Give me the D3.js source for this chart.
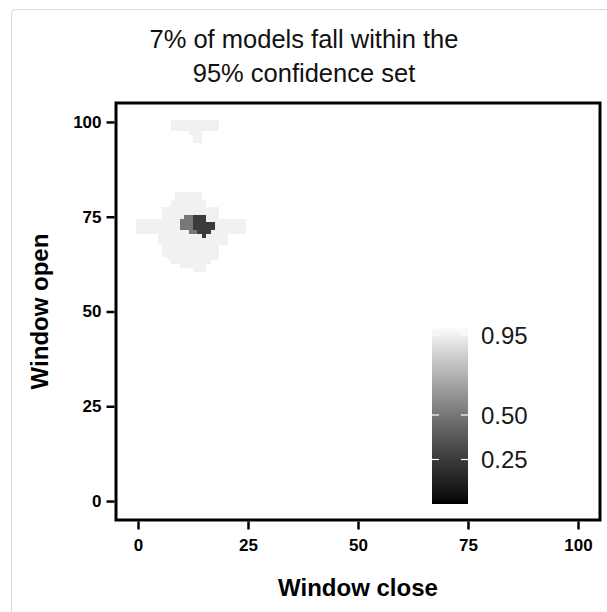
<!DOCTYPE html>
<html>
<head>
<meta charset="utf-8">
<script src="https://cdn.jsdelivr.net/npm/d3@7"></script>
<style>
  html, body { margin: 0; padding: 0; background: #fff; }
  svg { display: block; font-family: "Liberation Sans", Arial, sans-serif; }
</style>
</head>
<body>
<svg id="chart" width="607" height="612"></svg>
<script>
// Model confidence sets as runs of tiles: [windowOpen, closeFrom, closeTo]
const set95 = [
  [100, 8, 18], [99, 8, 18], [98, 8, 18], [97, 12, 14], [96, 13, 14], [95, 13, 14],
  [81, 9, 14], [80, 9, 14], [79, 8, 15], [78, 8, 15],
  [77, 6, 18], [76, 6, 18], [75, 6, 18],
  [74, 0, 24], [73, 0, 24], [72, 0, 24], [71, 0, 24],
  [70, 5, 20], [69, 5, 20], [68, 5, 20],
  [67, 6, 18], [66, 6, 18], [65, 6, 18], [64, 7, 18],
  [63, 8, 16], [62, 10, 15], [61, 13, 15]
];
const set50 = [
  [75, 11, 14], [74, 10, 12], [73, 10, 12], [72, 10, 12], [71, 12, 13]
];
const set25 = [
  [75, 13, 15], [74, 13, 15], [73, 13, 17], [72, 13, 17], [71, 14, 16], [70, 15, 15]
];
const setLevels = [0.95, 0.5, 0.25];

const xTicks = [0, 25, 50, 75, 100];
const yTicks = [0, 25, 50, 75, 100];
const legendBreaks = [0.25, 0.5, 0.95];
const titleLines = ["7% of models fall within the", "95% confidence set"];
const xTitle = "Window close";
const yTitle = "Window open";

const svg = d3.select("#chart");

// card outline
svg.append("rect")
  .attr("x", 11.5).attr("y", 9.5)
  .attr("width", 620).attr("height", 620)
  .attr("rx", 4)
  .attr("fill", "#fff")
  .attr("stroke", "#d9d9d9");

const panel = { left: 116, right: 600, top: 103, bottom: 520 };

const x = d3.scaleLinear().domain([-5, 105]).range([panel.left, panel.right]);
const y = d3.scaleLinear().domain([-5, 105]).range([panel.bottom, panel.top]);

const fill = d3.scaleLinear().domain([0, 1]).range(["black", "white"])
  .interpolate(d3.interpolateLab);

// tiles
const tiles = svg.append("g").attr("shape-rendering", "crispEdges");
[set95, set50, set25].forEach((runs, i) => {
  tiles.append("g")
    .selectAll("rect")
    .data(runs)
    .join("rect")
    .attr("x", d => x(d[1] - 0.5))
    .attr("width", d => x(d[2] + 0.5) - x(d[1] - 0.5))
    .attr("y", d => y(d[0] + 0.5))
    .attr("height", d => y(d[0] - 0.5) - y(d[0] + 0.5))
    .attr("fill", fill(setLevels[i]));
});

// colour bar legend
const lg = { x: 432, w: 36, top: 326, bottom: 504 };
const ly = d3.scaleLinear().domain([0, 1]).range([lg.bottom, lg.top]);
const grad = svg.append("defs").append("linearGradient")
  .attr("id", "cwGrad")
  .attr("x1", 0).attr("y1", 1).attr("x2", 0).attr("y2", 0);
d3.range(0, 1.0001, 0.05).forEach(t => {
  grad.append("stop").attr("offset", t).attr("stop-color", fill(t));
});
svg.append("rect")
  .attr("x", lg.x).attr("y", lg.top)
  .attr("width", lg.w).attr("height", lg.bottom - lg.top)
  .attr("fill", "url(#cwGrad)");
const lt = svg.append("g");
legendBreaks.forEach(b => {
  lt.append("line")
    .attr("x1", lg.x).attr("x2", lg.x + 7)
    .attr("y1", ly(b)).attr("y2", ly(b))
    .attr("stroke", "#fff").attr("stroke-width", 1.2);
  lt.append("line")
    .attr("x1", lg.x + lg.w - 7).attr("x2", lg.x + lg.w)
    .attr("y1", ly(b)).attr("y2", ly(b))
    .attr("stroke", "#fff").attr("stroke-width", 1.2);
  lt.append("text")
    .attr("x", lg.x + lg.w + 13)
    .attr("y", ly(b))
    .attr("dy", "0.36em")
    .attr("font-size", 24)
    .attr("fill", "#1a1a1a")
    .text(d3.format(".2f")(b));
});

// panel border
svg.append("rect")
  .attr("x", panel.left).attr("y", panel.top)
  .attr("width", panel.right - panel.left)
  .attr("height", panel.bottom - panel.top)
  .attr("fill", "none")
  .attr("stroke", "#000")
  .attr("stroke-width", 3);

// axes
const xAxis = svg.append("g")
  .attr("transform", `translate(0,${panel.bottom + 1.5})`)
  .call(d3.axisBottom(x).tickValues(xTicks).tickSize(8).tickPadding(9));
const yAxis = svg.append("g")
  .attr("transform", `translate(${panel.left - 1.5},0)`)
  .call(d3.axisLeft(y).tickValues(yTicks).tickSize(8).tickPadding(5));
[xAxis, yAxis].forEach(g => {
  g.select(".domain").remove();
  g.selectAll(".tick line").attr("stroke", "#000").attr("stroke-width", 2.5);
  g.selectAll(".tick text")
    .attr("fill", "#000")
    .attr("font-size", 17)
    .attr("font-weight", "bold")
    .attr("font-family", "'Liberation Sans', Arial, sans-serif");
});

// axis titles
svg.append("text")
  .attr("x", (panel.left + panel.right) / 2)
  .attr("y", 596)
  .attr("text-anchor", "middle")
  .attr("font-size", 24)
  .attr("font-weight", "bold")
  .text(xTitle);
svg.append("text")
  .attr("transform", `translate(48,${(panel.top + panel.bottom) / 2}) rotate(-90)`)
  .attr("text-anchor", "middle")
  .attr("font-size", 24)
  .attr("font-weight", "bold")
  .text(yTitle);

// title
svg.append("g")
  .selectAll("text")
  .data(titleLines)
  .join("text")
  .attr("x", 304)
  .attr("y", (d, i) => 48 + i * 34)
  .attr("text-anchor", "middle")
  .attr("font-size", 25.5)
  .attr("fill", "#111")
  .text(d => d);
</script>
</body>
</html>
